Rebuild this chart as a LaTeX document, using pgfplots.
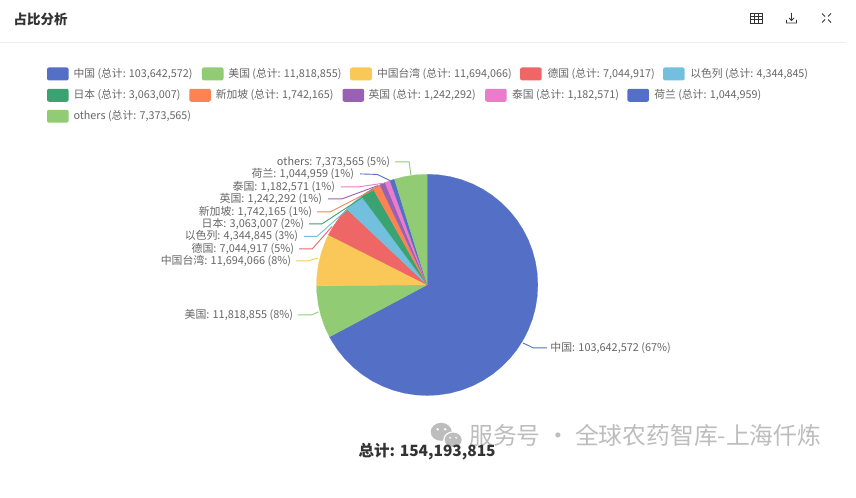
\documentclass[border=0pt]{standalone}
\usepackage{fontspec}
\setmainfont{Noto Sans CJK SC}
\usepackage{pgfplots}
\pgfplotsset{compat=1.18}
\definecolor{cA}{HTML}{5470C6}
\definecolor{cB}{HTML}{91CC75}
\definecolor{cC}{HTML}{FAC858}
\definecolor{cD}{HTML}{EE6666}
\definecolor{cE}{HTML}{73C0DE}
\definecolor{cF}{HTML}{3BA272}
\definecolor{cG}{HTML}{FC8452}
\definecolor{cH}{HTML}{9A60B4}
\definecolor{cI}{HTML}{EA7CCC}
\definecolor{txt}{HTML}{666666}
\definecolor{dark}{HTML}{333333}
\definecolor{wm}{HTML}{BDBDBD}
\newcommand\px[2]{(axis cs:{(#1)-427},{285-(#2)})}
% legend entry: colour, swatch x, row y, text x, text
\newcommand\legitem[5]{%
  \fill[#1,rounded corners=2pt] (axis cs:{#2-427},{285-(#3-6.5)}) rectangle (axis cs:{#2+21.6-427},{285-(#3+6.5)});
  \node[anchor=west,inner sep=0pt,text=txt,font=\fontsize{10.8}{12}\selectfont] at \px{#4}{#3} {#5};}
% slice label, right end x, y, text
\newcommand\lb[3]{\node[anchor=east,inner sep=0pt,text=txt,font=\fontsize{10.9}{12}\selectfont] at \px{#1}{#2} {#3};}
\begin{document}
\begin{tikzpicture}
\begin{axis}[
  width=856pt,height=498pt,scale only axis,hide axis,clip=false,
  xmin=-427,xmax=429,ymin=-213,ymax=285,
  every axis plot/.append style={line width=0.2pt,mark=none},
]
\path[fill=white] \px{0}{0} rectangle \px{856}{498};
% shares: 103642572, 11818855, 11694066, 7044917, 4344845, 3063007, 1742165, 1242292, 1182571, 1044959, 7373565 (total 154193815)
\addplot[fill=cA,draw=cA,data cs=polar] coordinates {(0,0)(90,110.7)(84,110.7)(78,110.7)(72,110.7)(66,110.7)(60,110.7)(54,110.7)(48,110.7)(42,110.7)(36,110.7)(30,110.7)(24,110.7)(18,110.7)(12,110.7)(6,110.7)(0,110.7)(-6,110.7)(-12,110.7)(-18,110.7)(-24,110.7)(-30,110.7)(-36,110.7)(-42,110.7)(-48,110.7)(-54,110.7)(-60,110.7)(-66,110.7)(-72,110.7)(-78,110.7)(-84,110.7)(-90,110.7)(-96,110.7)(-102,110.7)(-108,110.7)(-114,110.7)(-120,110.7)(-126,110.7)(-132,110.7)(-138,110.7)(-144,110.7)(-150,110.7)(-151.98,110.7)(0,0)};
\addplot[fill=cB,draw=cB,data cs=polar] coordinates {(0,0)(-151.98,110.7)(-158,110.7)(-164,110.7)(-170,110.7)(-176,110.7)(-179.574,110.7)(0,0)};
\addplot[fill=cC,draw=cC,data cs=polar] coordinates {(0,0)(-179.574,110.7)(-185,110.7)(-191,110.7)(-197,110.7)(-203,110.7)(-206.877,110.7)(0,0)};
\addplot[fill=cD,draw=cD,data cs=polar] coordinates {(0,0)(-206.877,110.7)(-212,110.7)(-218,110.7)(-223.325,110.7)(0,0)};
\addplot[fill=cE,draw=cE,data cs=polar] coordinates {(0,0)(-223.325,110.7)(-228,110.7)(-233.469,110.7)(0,0)};
\addplot[fill=cF,draw=cF,data cs=polar] coordinates {(0,0)(-233.469,110.7)(-237,110.7)(-240.62,110.7)(0,0)};
\addplot[fill=cG,draw=cG,data cs=polar] coordinates {(0,0)(-240.62,110.7)(-244.687,110.7)(0,0)};
\addplot[fill=cH,draw=cH,data cs=polar] coordinates {(0,0)(-244.687,110.7)(-247.587,110.7)(0,0)};
\addplot[fill=cI,draw=cI,data cs=polar] coordinates {(0,0)(-247.587,110.7)(-250.348,110.7)(0,0)};
\addplot[fill=cA,draw=cA,data cs=polar] coordinates {(0,0)(-250.348,110.7)(-252.788,110.7)(0,0)};
\addplot[fill=cB,draw=cB,data cs=polar] coordinates {(0,0)(-252.788,110.7)(-258,110.7)(-264,110.7)(-270,110.7)(0,0)};
% leaders
\draw[cB,line width=.9pt] \px{395}{162} -- \px{409}{162} -- \px{410.7}{175};
\draw[cA,line width=.9pt] \px{360}{174} -- \px{377}{174.5} -- \px{390}{180.7};
\draw[cI,line width=.9pt] \px{340.7}{187} -- \px{358}{187} -- \px{383.3}{183.3};
\draw[cH,line width=.9pt] \px{328}{199} -- \px{341.7}{199} -- \px{377.7}{185.7};
\draw[cG,line width=.9pt] \px{317}{212} -- \px{330}{212} -- \px{372.7}{190};
\draw[cF,line width=.9pt] \px{309}{224} -- \px{321.7}{224} -- \px{363}{197};
\draw[cE,line width=.9pt] \px{304}{236.5} -- \px{316.7}{236.5} -- \px{350}{207};
\draw[cD,line width=.9pt] \px{299}{249} -- \px{312}{249} -- \px{331.7}{226.7};
\draw[cC,line width=.9pt] \px{296}{261} -- \px{308}{261} -- \px{318}{258};
\draw[cB,line width=.9pt] \px{298}{315} -- \px{311.7}{315} -- \px{318}{312};
\draw[cA,line width=.9pt] \px{546.7}{348} -- \px{533}{348} -- \px{522.7}{343};
% slice labels
\lb{390}{162}{others: 7,373,565 (5\%)}
\lb{354}{174}{荷兰: 1,044,959 (1\%)}
\lb{335}{186.7}{泰国: 1,182,571 (1\%)}
\lb{322}{199}{英国: 1,242,292 (1\%)}
\lb{312}{211.7}{新加坡: 1,742,165 (1\%)}
\lb{304}{224}{日本: 3,063,007 (2\%)}
\lb{298}{236.3}{以色列: 4,344,845 (3\%)}
\lb{294}{249}{德国: 7,044,917 (5\%)}
\lb{291}{261}{中国台湾: 11,694,066 (8\%)}
\lb{293}{315}{美国: 11,818,855 (8\%)}
\lb{671}{348}{中国: 103,642,572 (67\%)}
% legend
\legitem{cA}{46.7}{74}{73}{中国 (总计: 103,642,572)}
\legitem{cB}{201.7}{74}{228}{美国 (总计: 11,818,855)}
\legitem{cC}{350}{74}{376.7}{中国台湾 (总计: 11,694,066)}
\legitem{cD}{520}{74}{547.3}{德国 (总计: 7,044,917)}
\legitem{cE}{663}{74}{690}{以色列 (总计: 4,344,845)}
\legitem{cF}{46.7}{95.3}{73}{日本 (总计: 3,063,007)}
\legitem{cG}{189}{95.3}{215.3}{新加坡 (总计: 1,742,165)}
\legitem{cH}{342.3}{95.3}{368.3}{英国 (总计: 1,242,292)}
\legitem{cI}{485}{95.3}{511.7}{泰国 (总计: 1,182,571)}
\legitem{cA}{627.3}{95.3}{654}{荷兰 (总计: 1,044,959)}
\legitem{cB}{46.7}{116.3}{73}{others (总计: 7,373,565)}
% header
\node[anchor=west,inner sep=0pt,text=dark,font=\fontsize{13.5}{16}\selectfont\bfseries] at \px{13}{19} {占比分析};
\draw[black!7,line width=.7pt] \px{0}{42.5} -- \px{846}{42.5};
% icon: table
\draw[dark,line width=.8pt] \px{750.5}{13.5} rectangle \px{762}{23};
\draw[dark,line width=.8pt] \px{750.5}{16.6} -- \px{762}{16.6} \px{750.5}{19.8} -- \px{762}{19.8} \px{754.3}{13.5} -- \px{754.3}{23} \px{758.1}{13.5} -- \px{758.1}{23};
% icon: download
\draw[dark,line width=.8pt] \px{791.5}{13} -- \px{791.5}{20} \px{789}{18} -- \px{791.5}{20.5} -- \px{794}{18} \px{786.5}{20} -- \px{786.5}{23} -- \px{796.5}{23} -- \px{796.5}{20};
% icon: fullscreen
\draw[dark,line width=.9pt] \px{822}{13.5} -- \px{825}{16.5} \px{831}{13.5} -- \px{828}{16.5} \px{822}{22.5} -- \px{825}{19.5} \px{831}{22.5} -- \px{828}{19.5};
% watermark
\fill[wm] \px{441}{432} ellipse [x radius=10.5,y radius=9];
\fill[white] \px{453}{440} ellipse [x radius=10,y radius=8.5];
\fill[wm] \px{453}{440} ellipse [x radius=8.5,y radius=7.2];
\fill[white] \px{437.5}{429.5} circle [radius=1.3] \px{445}{429.5} circle [radius=1.3] \px{450}{438} circle [radius=1] \px{456}{438} circle [radius=1];
\node[anchor=west,inner sep=0pt,text=wm,font=\fontsize{23.8}{26}\selectfont] at \px{469}{436} {服务号 · 全球农药智库-上海仟炼};
% total
\node[anchor=center,inner sep=0pt,text=dark,font=\fontsize{15.5}{18}\selectfont\bfseries] at \px{427}{452} {总计: 154,193,815};
\end{axis}
\end{tikzpicture}
\end{document}
